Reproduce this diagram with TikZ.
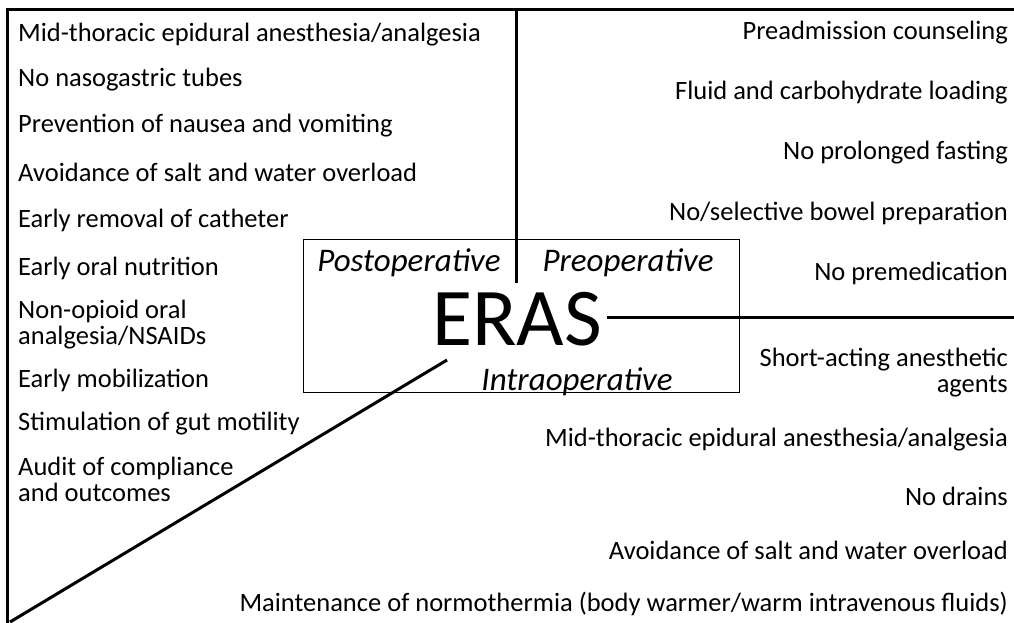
\documentclass[tikz,border=0pt]{standalone}
\usepackage{fontspec}
\setmainfont{Carlito}

\begin{document}
\begin{tikzpicture}[x=1pt,y=-1pt]
    \tikzstyle{every node}=[inner sep=0pt]
    \tikzstyle{postitem}=[anchor=west,align=left,font=\fontsize{26.5}{26}\selectfont]
    \tikzstyle{preitem}=[anchor=east,align=right,font=\fontsize{26.5}{26}\selectfont]
    \tikzstyle{phase}=[font=\fontsize{33}{36}\selectfont\itshape]
    \tikzstyle{frame}=[line width=3pt]
    \tikzstyle{spoke}=[line width=3pt]

    \useasboundingbox (0,0) rectangle (1014,623);

    % outer frame (top and left only)
    \coordinate (tl) at (7,10);
    \coordinate (tr) at (1014,10);
    \coordinate (bl) at (7,623);
    \draw[frame] (tr) -- (tl) -- (bl);

    % hub
    \node[draw,line width=0.8pt,minimum width=436pt,minimum height=153pt] (hub) at (521,316) {};
    \node[font=\fontsize{82}{82}\selectfont] (eras) at (517,319) {ERAS};
    \node[phase] (postop)  at (409,263) {Postoperative};
    \node[phase] (preop)   at (628,263) {Preoperative};
    \node[phase] (intraop) at (577,382) {Intraoperative};

    % spokes
    \coordinate (upend) at (516,283);
    \coordinate (rightend) at (1014,317);
    \coordinate (diagstart) at (447,360);
    \coordinate (diagend) at (10,622);
    \draw[spoke] (tl -| upend) -- (upend);
    \draw[spoke] ([xshift=5pt]eras.east |- rightend) -- (rightend);
    \draw[spoke] (diagstart) -- (diagend);

    % postoperative items
    \node[postitem] (p1)  at (18,35)  {Mid-thoracic epidural anesthesia/analgesia};
    \node[postitem] (p2)  at (18,80)  {No nasogastric tubes};
    \node[postitem] (p3)  at (18,126) {Prevention of nausea and vomiting};
    \node[postitem] (p4)  at (18,172) {Avoidance of salt and water overload};
    \node[postitem] (p5)  at (18,220) {Early removal of catheter};
    \node[postitem] (p6)  at (18,268) {Early oral nutrition};
    \node[postitem] (p7)  at (18,325) {Non-opioid oral\\analgesia/NSAIDs};
    \node[postitem] (p8)  at (18,380) {Early mobilization};
    \node[postitem] (p9)  at (18,424) {Stimulation of gut motility};
    \node[postitem] (p10) at (18,479) {Audit of compliance\\and outcomes};

    % preoperative items
    \node[preitem] (r1) at (1008,33)  {Preadmission counseling};
    \node[preitem] (r2) at (1008,93)  {Fluid and carbohydrate loading};
    \node[preitem] (r3) at (1008,153) {No prolonged fasting};
    \node[preitem] (r4) at (1008,213) {No/selective bowel preparation};
    \node[preitem] (r5) at (1008,273) {No premedication};

    % intraoperative items
    \node[preitem] (i1) at (1008,373) {Short-acting anesthetic\\agents};
    \node[preitem] (i2) at (1008,440) {Mid-thoracic epidural anesthesia/analgesia};
    \node[preitem] (i3) at (1008,496) {No drains};
    \node[preitem] (i4) at (1008,550) {Avoidance of salt and water overload};
    \node[preitem] (i5) at (1008,604) {Maintenance of normothermia (body warmer/warm intravenous fluids)};
\end{tikzpicture}
\end{document}
